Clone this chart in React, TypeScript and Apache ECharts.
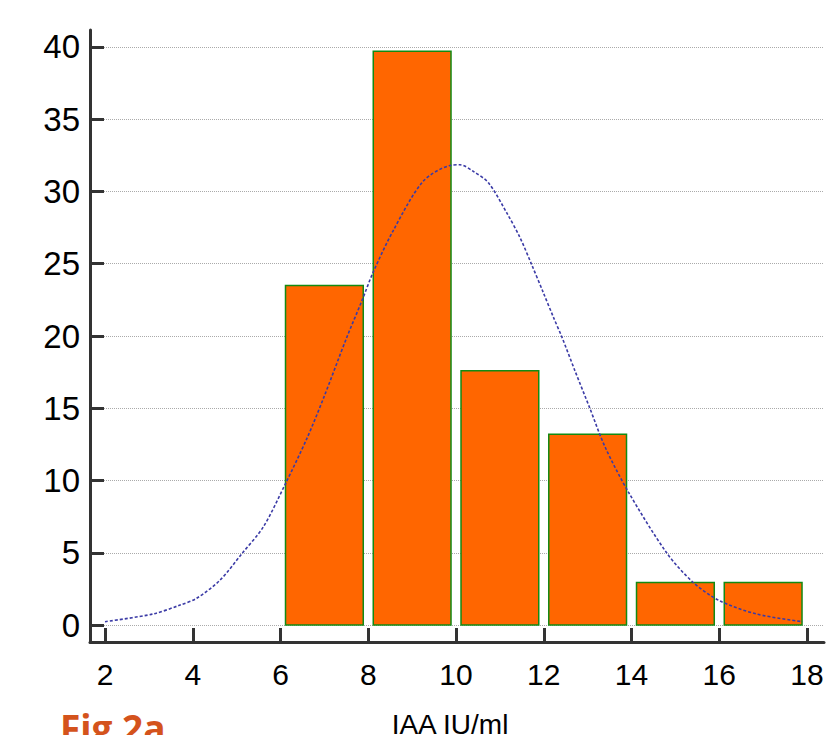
import React, { useEffect, useRef } from "react";
import * as echarts from "echarts";

// Histogram bins: [lower edge, upper edge] and percentage values
const binEdges: [number, number][] = [
  [6, 8],
  [8, 10],
  [10, 12],
  [12, 14],
  [14, 16],
  [16, 18],
];
const binValues = [23.5, 39.7, 17.6, 13.2, 2.94, 2.94];

// Fitted normal curve: [x, y]
const curvePoints: [number, number][] = [
  [2.0, 0.23], [3.09, 0.76], [3.71, 1.38], [4.09, 1.85], [4.62, 3.1],
  [5.11, 4.9], [5.61, 6.8], [6.1, 9.7], [6.6, 12.9], [6.98, 15.7],
  [7.51, 19.9], [7.85, 22.4], [8.11, 24.4], [8.57, 27.3], [9.25, 30.7],
  [9.86, 31.8], [10.09, 31.85], [10.39, 31.4], [10.74, 30.6], [11.16, 28.5],
  [11.46, 26.8], [11.73, 24.9], [11.99, 23.0], [12.22, 21.3], [12.41, 19.95],
  [12.71, 17.6], [13.05, 15.0], [13.4, 12.3], [13.93, 9.2], [14.8, 5.0],
  [15.4, 2.96], [16.0, 1.69], [16.85, 0.76], [17.9, 0.23],
];

const xTicks = [2, 4, 6, 8, 10, 12, 14, 16, 18];
const yTicks = [0, 5, 10, 15, 20, 25, 30, 35, 40];

const xTitle = "IAA IU/ml";
const figLabel = "Fig 2a";

export default function App() {
  const ref = useRef<HTMLDivElement>(null);
  useEffect(() => {
    if (!ref.current) return;
    const chart = echarts.init(ref.current, undefined, { renderer: "svg" });
    const barData = binEdges.map((e, i) => [e[0], e[1], binValues[i]]);
    const font = "'Liberation Sans', Arial, sans-serif";
    chart.setOption({
      animation: false,
      backgroundColor: "#fff",
      grid: { left: 90, right: 2, top: 30, bottom: 93, outerBoundsMode: "none" },
      xAxis: {
        type: "value",
        min: 1.658,
        max: 18.387,
        axisLine: { show: true, onZero: false, lineStyle: { color: "#333", width: 3 } },
        axisTick: {
          show: true,
          inside: true,
          length: 14,
          customValues: xTicks,
          lineStyle: { color: "#333", width: 3 },
        },
        axisLabel: {
          customValues: xTicks,
          fontSize: 30,
          color: "#000",
          margin: 17,
          fontFamily: font,
        },
        splitLine: { show: false },
      },
      yAxis: {
        type: "value",
        min: -1.176,
        max: 41.176,
        axisLine: { show: true, lineStyle: { color: "#333", width: 3 } },
        axisTick: {
          show: true,
          inside: true,
          length: 14,
          customValues: yTicks,
          lineStyle: { color: "#333", width: 3 },
        },
        axisLabel: {
          customValues: yTicks,
          fontSize: 33,
          color: "#000",
          margin: 10,
          fontFamily: font,
        },
        splitLine: { show: true, lineStyle: { type: [1, 1], color: "#aaa", width: 1 } },
      },
      series: [
        {
          type: "custom",
          data: barData,
          encode: { x: [0, 1], y: 2 },
          renderItem: (params: any, api: any) => {
            const x0 = api.value(0);
            const x1 = api.value(1);
            const v = api.value(2);
            const p0 = api.coord([x0, v]);
            const p1 = api.coord([x1, 0]);
            return {
              type: "rect",
              shape: {
                x: p0[0] + 5,
                y: p0[1],
                width: p1[0] - p0[0] - 10,
                height: p1[1] - p0[1],
              },
              style: { fill: "#FF6600", stroke: "#138A13", lineWidth: 1.5 },
            };
          },
          z: 2,
        },
        {
          type: "line",
          data: curvePoints,
          smooth: 0.3,
          symbol: "none",
          lineStyle: { color: "#3B3BA6", width: 1.6, type: [3, 2] },
          z: 3,
        },
      ],
      graphic: [
        {
          type: "text",
          x: 450,
          y: 724,
          style: {
            text: xTitle,
            fontSize: 28,
            fontFamily: font,
            fill: "#000",
            align: "center",
            verticalAlign: "middle",
          },
        },
        {
          type: "text",
          x: 60,
          y: 727,
          style: {
            text: figLabel,
            fontSize: 37,
            fontWeight: "bold",
            fontFamily: "'Open Sans', sans-serif",
            fill: "#D4531C",
            align: "left",
            verticalAlign: "middle",
          },
        },
      ],
    });
    return () => chart.dispose();
  }, []);
  return (
    <div
      ref={ref}
      style={{ position: "fixed", left: 0, top: 0, width: 826, height: 735 }}
    />
  );
}
